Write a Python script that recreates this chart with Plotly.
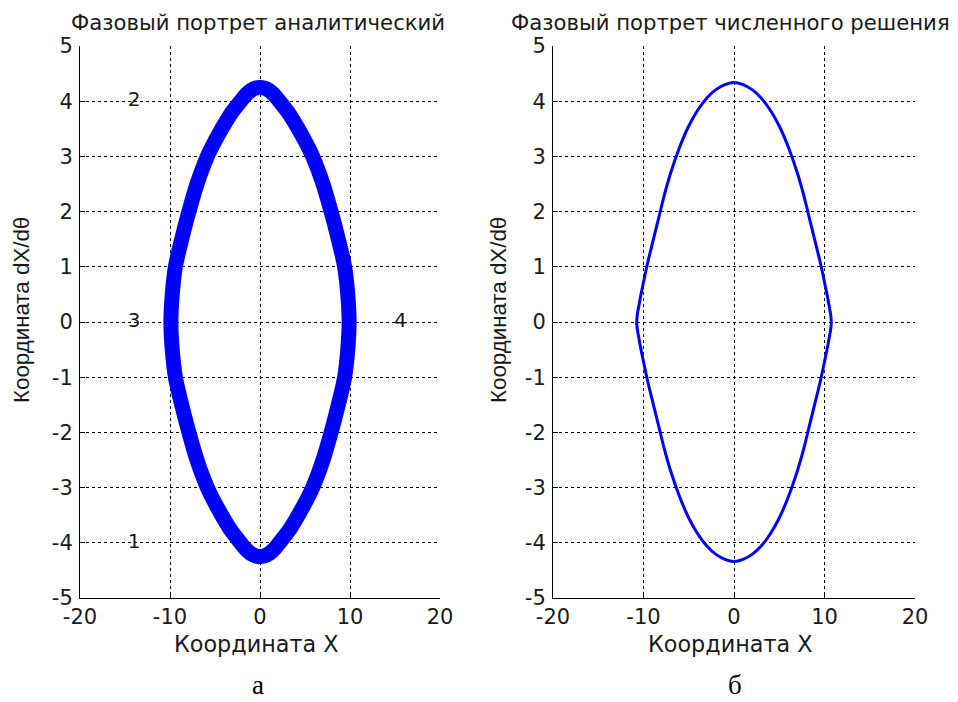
import plotly.graph_objects as go

# Analytic phase portrait (band midline); loop starts at right extreme
x_analytic = [9.9, 9.75, 9.4, 8.7, 7.9, 7.0, 5.85, 5.1, 4.25, 3.25, 2.15, 1.5, 1.0, 0.5, 0,
              -0.5, -1.0, -1.5, -2.15, -3.25, -4.25, -5.1, -5.85, -7.0, -7.9, -8.7, -9.4, -9.75, -9.9,
              -9.75, -9.4, -8.7, -7.9, -7.0, -5.85, -5.1, -4.25, -3.25, -2.15, -1.5, -1.0, -0.5, 0,
              0.5, 1.0, 1.5, 2.15, 3.25, 4.25, 5.1, 5.85, 7.0, 7.9, 8.7, 9.4, 9.75, 9.9]
y_analytic = [0, -0.5, -1.0, -1.5, -2.0, -2.5, -3.0, -3.25, -3.5, -3.77, -4.0, -4.128, -4.196, -4.236, -4.25,
              -4.236, -4.196, -4.128, -4.0, -3.77, -3.5, -3.25, -3.0, -2.5, -2.0, -1.5, -1.0, -0.5, 0,
              0.5, 1.0, 1.5, 2.0, 2.5, 3.0, 3.25, 3.5, 3.77, 4.0, 4.128, 4.196, 4.236, 4.25,
              4.236, 4.196, 4.128, 4.0, 3.77, 3.5, 3.25, 3.0, 2.5, 2.0, 1.5, 1.0, 0.5, 0]

# Numerical solution phase portrait; loop starts at right tip
x_numeric = [10.75, 10.45, 10.0, 9.5, 8.9, 8.3, 7.7, 7.0, 6.0, 5.0, 4.0, 3.0, 2.0, 1.0, 0,
             -1.0, -2.0, -3.0, -4.0, -5.0, -6.0, -7.0, -7.7, -8.3, -8.9, -9.5, -10.0, -10.45, -10.75,
             -10.45, -10.0, -9.5, -8.9, -8.3, -7.7, -7.0, -6.0, -5.0, -4.0, -3.0, -2.0, -1.0, 0,
             1.0, 2.0, 3.0, 4.0, 5.0, 6.0, 7.0, 7.7, 8.3, 8.9, 9.5, 10.0, 10.45, 10.75]
y_numeric = [0, -0.35, -0.72, -1.1, -1.5, -1.9, -2.3, -2.7, -3.17, -3.55, -3.84, -4.06, -4.21, -4.3, -4.34,
             -4.3, -4.21, -4.06, -3.84, -3.55, -3.17, -2.7, -2.3, -1.9, -1.5, -1.1, -0.72, -0.35, 0,
             0.35, 0.72, 1.1, 1.5, 1.9, 2.3, 2.7, 3.17, 3.55, 3.84, 4.06, 4.21, 4.3, 4.34,
             4.3, 4.21, 4.06, 3.84, 3.55, 3.17, 2.7, 2.3, 1.9, 1.5, 1.1, 0.72, 0.35, 0]

# Point labels on left plot
label_text = ["1", "2", "3", "4"]
label_x = [-14, -14, -14, 15.6]
label_y = [-4, 4, 0, 0]

# Tick values / labels (hyphen-minus as in the original)
x_ticks = [-20, -10, 0, 10, 20]
x_ticktext = ["-20", "-10", "0", "10", "20"]
y_ticks = [-5, -4, -3, -2, -1, 0, 1, 2, 3, 4, 5]
y_ticktext = ["-5", "-4", "-3", "-2", "-1", "0", "1", "2", "3", "4", "5"]

titles = ["Фазовый портрет аналитический", "Фазовый портрет численного решения"]
x_title = "Координата X"
y_title = "Координата dX/dθ"
captions = ["а", "б"]

PAGE_W, PAGE_H = 958, 702
OFF = 8  # page body offset
FW, FH = PAGE_W - OFF, PAGE_H - OFF  # figure size
L, R, T, B = 80 - OFF, 915 - OFF, 46 - OFF, 598 - OFF  # plot area in figure pixels
PW, PH = R - L, B - T
FONT = "DejaVu Sans, Liberation Sans, sans-serif"
FONT_V = "Liberation Sans, Arial, sans-serif"
TXT = "#1a1a1a"
BLUE = "#0000ff"


def px(x):
    return (x - OFF - L) / PW


def py(y):
    return (B - (y - OFF)) / PH


fig = go.Figure()
fig.add_trace(go.Scatter(x=x_analytic, y=y_analytic, mode="lines",
                         line=dict(color=BLUE, width=15, shape="spline", smoothing=0.9),
                         xaxis="x", yaxis="y", showlegend=False, hoverinfo="skip"))
fig.add_trace(go.Scatter(x=x_numeric, y=y_numeric, mode="lines",
                         line=dict(color=BLUE, width=3, shape="spline", smoothing=1.0),
                         xaxis="x2", yaxis="y2", showlegend=False, hoverinfo="skip"))
fig.add_trace(go.Scatter(x=label_x, y=label_y, mode="text", text=label_text,
                         textfont=dict(family=FONT, size=20, color=TXT),
                         xaxis="x", yaxis="y", showlegend=False, hoverinfo="skip"))

px_l = [80, 553]
px_r = [440, 915]


def xaxis(i):
    return dict(domain=[px(px_l[i]), px(px_r[i])], range=[-20, 20],
                tickmode="array", tickvals=x_ticks, ticktext=x_ticktext,
                showline=True, linecolor="black", linewidth=1, mirror=False,
                ticks="inside", ticklen=5, tickcolor="black",
                showgrid=True, gridcolor="black", gridwidth=1, griddash="3px,3px",
                zeroline=False, tickfont=dict(family=FONT, size=21, color=TXT),
                anchor="y" if i == 0 else "y2", fixedrange=True, automargin=False,
                ticklabelstandoff=0)


def yaxis(i):
    return dict(domain=[0, 1], range=[-5, 5],
                tickmode="array", tickvals=y_ticks, ticktext=y_ticktext,
                showline=True, linecolor="black", linewidth=1, mirror=False,
                ticks="inside", ticklen=5, tickcolor="black",
                showgrid=True, gridcolor="black", gridwidth=1, griddash="3px,3px",
                zeroline=False, tickfont=dict(family=FONT, size=21, color=TXT),
                anchor="x" if i == 0 else "x2", fixedrange=True, automargin=False,
                ticklabelstandoff=2)


ann = []
centers = [(px_l[i] + px_r[i]) / 2 for i in range(2)]
title_cx = [258, 730]
for i in range(2):
    ann.append(dict(text=titles[i], x=px(title_cx[i]), y=py(22), xref="paper", yref="paper",
                    showarrow=False, xanchor="center", yanchor="middle",
                    font=dict(family=FONT, size=21.2, color=TXT)))
    ann.append(dict(text=x_title, x=px(centers[i] - 4), y=py(644), xref="paper", yref="paper",
                    showarrow=False, xanchor="center", yanchor="middle",
                    font=dict(family=FONT, size=22.3, color=TXT)))
    ann.append(dict(text=y_title, x=px(21 + 477 * i), y=py(310), xref="paper", yref="paper",
                    showarrow=False, xanchor="center", yanchor="middle", textangle=-90,
                    font=dict(family=FONT_V, size=22.3, color=TXT)))
    ann.append(dict(text=captions[i], x=px(258 + 477 * i), y=py(685), xref="paper", yref="paper",
                    showarrow=False, xanchor="center", yanchor="middle",
                    font=dict(family="Liberation Serif, Times New Roman, serif", size=27, color="black")))

fig.update_layout(width=FW, height=FH, margin=dict(l=L, r=FW - R, t=T, b=FH - B, autoexpand=False),
                  paper_bgcolor="white", plot_bgcolor="white",
                  xaxis=xaxis(0), yaxis=yaxis(0), xaxis2=xaxis(1), yaxis2=yaxis(1),
                  annotations=ann, showlegend=False)

fig.write_html("out.html")
